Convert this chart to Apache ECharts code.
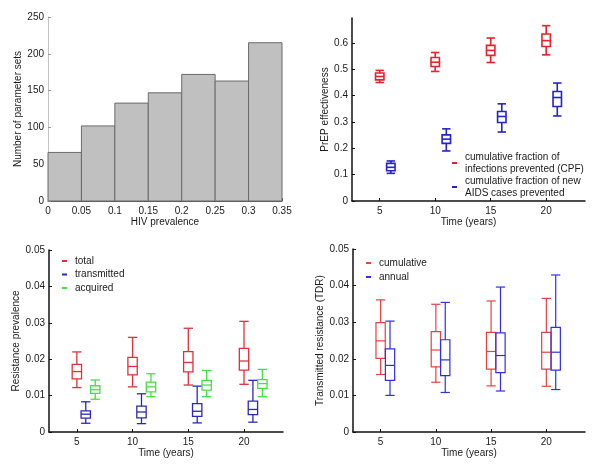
<!DOCTYPE html>
<html><head><meta charset="utf-8">
<script src="https://cdn.jsdelivr.net/npm/echarts@6/dist/echarts.min.js"></script>
<style>html,body{margin:0;padding:0;background:#fff}#c{width:601px;height:464px}</style>
</head><body><div id="c"></div>
<script>
// ---------- DATA ----------
// Panel A: histogram
const histEdges = [0, 0.05, 0.1, 0.15, 0.2, 0.25, 0.3, 0.35];
const histCounts = [66, 102, 133, 147, 172, 163, 215];
const histTicks = [0, 0.05, 0.1, 0.15, 0.2, 0.25, 0.3, 0.35];

// Common time ticks
const timeTicks = [5, 10, 15, 20];

// Panel B: PrEP effectiveness, boxes as [min, q1, median, q3, max]
const cpfPos = [5, 10, 15, 20];
const cpfBoxes = [
  [0.450, 0.460, 0.473, 0.486, 0.496],
  [0.492, 0.511, 0.527, 0.545, 0.564],
  [0.526, 0.553, 0.572, 0.591, 0.619],
  [0.555, 0.587, 0.609, 0.634, 0.666]
];
const aidsPos = [6, 11, 16, 21];
const aidsBoxes = [
  [0.105, 0.115, 0.128, 0.143, 0.152],
  [0.190, 0.219, 0.235, 0.251, 0.274],
  [0.262, 0.298, 0.321, 0.340, 0.369],
  [0.323, 0.359, 0.393, 0.416, 0.448]
];
const prepTicks = [0, 0.1, 0.2, 0.3, 0.4, 0.5, 0.6];

// Panel C: resistance prevalence
const totalPos = [5, 10, 15, 20];
const totalBoxes = [
  [0.0122, 0.0146, 0.0166, 0.0186, 0.0220],
  [0.0124, 0.0157, 0.0180, 0.0205, 0.0260],
  [0.0129, 0.0165, 0.0191, 0.0221, 0.0285],
  [0.0131, 0.0170, 0.0195, 0.0230, 0.0304]
];
const transPos = [5.8, 10.8, 15.8, 20.8];
const transBoxes = [
  [0.0024, 0.0038, 0.0049, 0.0058, 0.0083],
  [0.0023, 0.0039, 0.0055, 0.0071, 0.0105],
  [0.0025, 0.0043, 0.0057, 0.0078, 0.0126],
  [0.0027, 0.0048, 0.0062, 0.0085, 0.0142]
];
const acqPos = [6.65, 11.65, 16.65, 21.65];
const acqBoxes = [
  [0.0090, 0.0106, 0.0116, 0.0127, 0.0143],
  [0.0097, 0.0110, 0.0124, 0.0137, 0.0160],
  [0.0097, 0.0115, 0.0129, 0.0142, 0.0169],
  [0.0097, 0.0120, 0.0133, 0.0144, 0.0172]
];
const resTicks = [0, 0.01, 0.02, 0.03, 0.04, 0.05];

// Panel D: transmitted resistance (TDR)
const cumPos = [5, 10, 15, 20];
const cumBoxes = [
  [0.0157, 0.0201, 0.0249, 0.0299, 0.0361],
  [0.0136, 0.0178, 0.0224, 0.0274, 0.0349],
  [0.0126, 0.0172, 0.0220, 0.0272, 0.0358],
  [0.0125, 0.0172, 0.0218, 0.0272, 0.0365]
];
const annPos = [5.85, 10.85, 15.85, 20.85];
const annBoxes = [
  [0.0100, 0.0141, 0.0182, 0.0227, 0.0303],
  [0.0108, 0.0154, 0.0197, 0.0252, 0.0354],
  [0.0112, 0.0162, 0.0209, 0.0271, 0.0396],
  [0.0116, 0.0169, 0.0218, 0.0286, 0.0429]
];

// ---------- CHART ----------
const FONT = '"Liberation Sans", Arial, sans-serif';
const TXT = '#1a1a1a';
const RED = '#e8222b', BLUE = '#2424c8', GREEN = '#44e044';

function boxData(pos, boxes) {
  return pos.map((p, i) => [p].concat(boxes[i]));
}
function boxRender(color, halfW, lw) {
  return function (params, api) {
    const x = api.value(0);
    const lo = api.coord([x - halfW, api.value(1)]);
    const hi = api.coord([x + halfW, api.value(5)]);
    const q1 = api.coord([x, api.value(2)])[1];
    const med = api.coord([x, api.value(3)])[1];
    const q3 = api.coord([x, api.value(4)])[1];
    const cx = api.coord([x, 0])[0];
    const xl = lo[0], xr = hi[0];
    const st = { stroke: color, lineWidth: lw, fill: null };
    const line = (x1, y1, x2, y2) => ({ type: 'line', shape: { x1, y1, x2, y2 }, style: st });
    return {
      type: 'group',
      children: [
        { type: 'rect', shape: { x: xl, y: q3, width: xr - xl, height: q1 - q3 }, style: { stroke: color, lineWidth: lw, fill: 'none' } },
        line(xl, med, xr, med),
        line(cx, q3, cx, hi[1]),
        line(cx, q1, cx, lo[1]),
        line(xl, hi[1], xr, hi[1]),
        line(xl, lo[1], xr, lo[1])
      ]
    };
  };
}
function boxSeries(name, idx, color, pos, boxes, halfW, lw) {
  return {
    type: 'custom', name: name, xAxisIndex: idx, yAxisIndex: idx,
    itemStyle: { color: color },
    data: boxData(pos, boxes),
    encode: { x: 0, y: [1, 2, 3, 4, 5] },
    renderItem: boxRender(color, halfW, lw),
    silent: true
  };
}

function timeAxis(idx) {
  return {
    type: 'value', gridIndex: idx, min: 2.5, max: 23.5,
    name: 'Time (years)', nameLocation: 'middle', nameGap: idx >= 2 ? 15 : 13,
    nameTextStyle: { fontFamily: FONT, fontSize: 10, color: TXT },
    axisLine: { show: true, lineStyle: { color: '#111', width: 1.5 } },
    axisTick: { show: true, inside: true, length: 3, customValues: timeTicks, lineStyle: { color: '#111' } },
    axisLabel: { customValues: timeTicks, fontFamily: FONT, fontSize: 10, color: TXT, margin: 5 },
    splitLine: { show: false }
  };
}
function valAxis(idx, name, min, max, ticks, gap, digits) {
  return {
    type: 'value', gridIndex: idx, min: min, max: max,
    name: name, nameLocation: 'middle', nameGap: gap, nameRotate: 90,
    nameTextStyle: { fontFamily: FONT, fontSize: 10, color: TXT },
    axisLine: { show: true, lineStyle: { color: '#111', width: 1.5 } },
    axisTick: { show: true, inside: true, length: 3, customValues: ticks, lineStyle: { color: '#111' } },
    axisLabel: { customValues: ticks, fontFamily: FONT, fontSize: 10, color: TXT, margin: 4,
      formatter: v => (v === 0 ? '0' : String(+v.toFixed(digits))) },
    splitLine: { show: false }
  };
}

const chart = echarts.init(document.getElementById('c'), null, { renderer: 'canvas' });
const option = {
  animation: false,
  backgroundColor: '#fff',
  grid: [
    { left: 48, top: 17, width: 234, height: 184 },
    { left: 352, top: 18, width: 233, height: 183 },
    { left: 49, top: 250, width: 234, height: 182 },
    { left: 353, top: 249, width: 232, height: 183 }
  ],
  xAxis: [
    {
      type: 'value', gridIndex: 0, min: 0, max: 0.35,
      name: 'HIV prevalence', nameLocation: 'middle', nameGap: 13,
      nameTextStyle: { fontFamily: FONT, fontSize: 10, color: TXT },
      axisLine: { show: true, lineStyle: { color: '#555', width: 1 } },
      axisTick: { show: true, inside: true, length: 3, customValues: histTicks, lineStyle: { color: '#555' } },
      axisLabel: { customValues: histTicks, fontFamily: FONT, fontSize: 10, color: TXT, margin: 5,
        formatter: v => (v === 0 ? '0' : String(+v.toFixed(2))) },
      splitLine: { show: false }
    },
    timeAxis(1), timeAxis(2), timeAxis(3)
  ],
  yAxis: [
    {
      type: 'value', gridIndex: 0, min: 0, max: 250,
      name: 'Number of parameter sets', nameLocation: 'middle', nameGap: 21, nameRotate: 90,
      nameTextStyle: { fontFamily: FONT, fontSize: 10, color: TXT },
      axisLine: { show: true, lineStyle: { color: '#c4c4c4', width: 1 } },
      axisTick: { show: true, inside: true, length: 3, customValues: [0, 50, 100, 150, 200, 250], lineStyle: { color: '#999' } },
      axisLabel: { customValues: [0, 50, 100, 150, 200, 250], fontFamily: FONT, fontSize: 10, color: TXT, margin: 4 },
      splitLine: { show: false }
    },
    valAxis(1, 'PrEP effectiveness', 0, 0.695, prepTicks, 18, 1),
    valAxis(2, 'Resistance prevalence', 0, 0.05, resTicks, 27, 2),
    valAxis(3, 'Transmitted resistance (TDR)', 0, 0.05, resTicks, 25, 2)
  ],
  legend: [
    {
      data: ['cumulative fraction of\ninfections prevented (CPF)', 'cumulative fraction of new\nAIDS cases prevented'],
      orient: 'vertical', left: 447, top: 146, itemGap: 0,
      itemWidth: 5, itemHeight: 2, icon: 'rect',
      textStyle: { fontFamily: FONT, fontSize: 10, color: TXT, lineHeight: 12, padding: [0, 0, 0, 3] },
      selectedMode: false
    },
    {
      data: ['total', 'transmitted', 'acquired'],
      orient: 'vertical', left: 57, top: 251, itemGap: 3.5,
      itemWidth: 5, itemHeight: 2, icon: 'rect',
      textStyle: { fontFamily: FONT, fontSize: 10, color: TXT, padding: [0, 0, 0, 3] },
      selectedMode: false
    },
    {
      data: ['cumulative', 'annual'],
      orient: 'vertical', left: 361, top: 253, itemGap: 4,
      itemWidth: 5, itemHeight: 2, icon: 'rect',
      textStyle: { fontFamily: FONT, fontSize: 10, color: TXT, padding: [0, 0, 0, 3] },
      selectedMode: false
    }
  ],
  series: [
    {
      type: 'custom', name: 'hist', xAxisIndex: 0, yAxisIndex: 0,
      data: histCounts.map((c, i) => [histEdges[i], histEdges[i + 1], c]),
      encode: { x: [0, 1], y: 2 },
      renderItem: function (params, api) {
        const p0 = api.coord([api.value(0), api.value(2)]);
        const p1 = api.coord([api.value(1), 0]);
        return { type: 'rect', shape: { x: p0[0], y: p0[1], width: p1[0] - p0[0], height: p1[1] - p0[1] },
          style: { fill: '#c0c0c0', stroke: '#6a6a6a', lineWidth: 1 } };
      },
      silent: true
    },
    boxSeries('cumulative fraction of\ninfections prevented (CPF)', 1, RED, cpfPos, cpfBoxes, 0.38, 1.6),
    boxSeries('cumulative fraction of new\nAIDS cases prevented', 1, BLUE, aidsPos, aidsBoxes, 0.38, 1.6),
    boxSeries('total', 2, '#e0303a', totalPos, totalBoxes, 0.42, 1.3),
    boxSeries('transmitted', 2, '#2a2ab8', transPos, transBoxes, 0.42, 1.3),
    boxSeries('acquired', 2, GREEN, acqPos, acqBoxes, 0.42, 1.3),
    boxSeries('cumulative', 3, '#e84040', cumPos, cumBoxes, 0.42, 1.2),
    boxSeries('annual', 3, '#3030e0', annPos, annBoxes, 0.42, 1.2)
  ]
};
chart.setOption(option);
</script></body></html>
